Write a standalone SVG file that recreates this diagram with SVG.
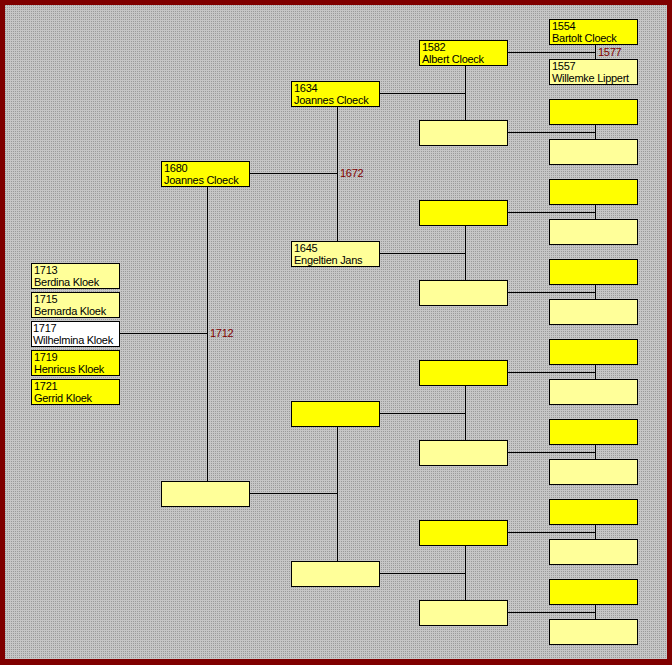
<svg xmlns="http://www.w3.org/2000/svg" width="672" height="665" viewBox="0 0 672 665">
<defs>
<pattern id="bg" x="0" y="0" width="2" height="2" patternUnits="userSpaceOnUse">
<rect width="2" height="2" fill="#c6c6c6"/>
<rect x="1" y="1" width="1" height="1" fill="#9a9a9a"/>
</pattern>
</defs>
<style>
.b{stroke:#000;stroke-width:1}
.y{fill:#ffff00}
.l{fill:#ffff99}
.w{fill:#ffffff}
text{font-family:"Liberation Sans",Arial,sans-serif;font-size:11px;letter-spacing:-0.28px;fill:#000}
text.m{fill:#800000}
#connectors line{stroke:#000;stroke-width:1}
</style>
<rect width="672" height="665" fill="#800000"/>
<rect x="5" y="5" width="662" height="654" fill="url(#bg)"/>
<g id="connectors">
<line x1="120" y1="333.5" x2="207.5" y2="333.5"/>
<line x1="207.5" y1="187" x2="207.5" y2="481"/>
<line x1="250" y1="173.5" x2="337.5" y2="173.5"/>
<line x1="250" y1="493.5" x2="337.5" y2="493.5"/>
<line x1="337.5" y1="107" x2="337.5" y2="241"/>
<line x1="337.5" y1="427" x2="337.5" y2="561"/>
<line x1="380" y1="93.5" x2="465.5" y2="93.5"/>
<line x1="380" y1="253.5" x2="465.5" y2="253.5"/>
<line x1="380" y1="413.5" x2="465.5" y2="413.5"/>
<line x1="380" y1="573.5" x2="465.5" y2="573.5"/>
<line x1="465.5" y1="66" x2="465.5" y2="120"/>
<line x1="465.5" y1="226" x2="465.5" y2="280"/>
<line x1="465.5" y1="386" x2="465.5" y2="440"/>
<line x1="465.5" y1="546" x2="465.5" y2="600"/>
<line x1="508" y1="52.5" x2="595.5" y2="52.5"/>
<line x1="508" y1="132.5" x2="595.5" y2="132.5"/>
<line x1="508" y1="212.5" x2="595.5" y2="212.5"/>
<line x1="508" y1="292.5" x2="595.5" y2="292.5"/>
<line x1="508" y1="372.5" x2="595.5" y2="372.5"/>
<line x1="508" y1="452.5" x2="595.5" y2="452.5"/>
<line x1="508" y1="532.5" x2="595.5" y2="532.5"/>
<line x1="508" y1="612.5" x2="595.5" y2="612.5"/>
<line x1="595.5" y1="45" x2="595.5" y2="59"/>
<line x1="595.5" y1="125" x2="595.5" y2="139"/>
<line x1="595.5" y1="205" x2="595.5" y2="219"/>
<line x1="595.5" y1="285" x2="595.5" y2="299"/>
<line x1="595.5" y1="365" x2="595.5" y2="379"/>
<line x1="595.5" y1="445" x2="595.5" y2="459"/>
<line x1="595.5" y1="525" x2="595.5" y2="539"/>
<line x1="595.5" y1="605" x2="595.5" y2="619"/>
<text class="m" x="210" y="337">1712</text>
<text class="m" x="340" y="177">1672</text>
<text class="m" x="598" y="56">1577</text>
</g>
<g id="c1713"><rect class="b l" x="31.5" y="263.5" width="88" height="25"/><text x="34" y="274">1713</text><text x="34" y="286">Berdina Kloek</text></g>
<g id="c1715"><rect class="b l" x="31.5" y="292.5" width="88" height="25"/><text x="34" y="303">1715</text><text x="34" y="315">Bernarda Kloek</text></g>
<g id="c1717"><rect class="b w" x="31.5" y="321.5" width="88" height="25"/><text x="33" y="332">1717</text><text x="33" y="344">Wilhelmina Kloek</text></g>
<g id="c1719"><rect class="b y" x="31.5" y="350.5" width="88" height="25"/><text x="34" y="361">1719</text><text x="34" y="373">Henricus Kloek</text></g>
<g id="c1721"><rect class="b y" x="31.5" y="379.5" width="88" height="25"/><text x="34" y="390">1721</text><text x="34" y="402">Gerrid Kloek</text></g>
<g id="p1680"><rect class="b y" x="161.5" y="161.5" width="88" height="25"/><text x="164" y="172">1680</text><text x="164" y="184">Joannes Cloeck</text></g>
<g id="p2"><rect class="b l" x="161.5" y="481.5" width="88" height="25"/></g>
<g id="gp1634"><rect class="b y" x="291.5" y="81.5" width="88" height="25"/><text x="294" y="92">1634</text><text x="294" y="104">Joannes Cloeck</text></g>
<g id="gp1645"><rect class="b l" x="291.5" y="241.5" width="88" height="25"/><text x="294" y="252">1645</text><text x="294" y="264">Engeltien Jans</text></g>
<g id="gp3"><rect class="b y" x="291.5" y="401.5" width="88" height="25"/></g>
<g id="gp4"><rect class="b l" x="291.5" y="561.5" width="88" height="25"/></g>
<g id="ggp1582"><rect class="b y" x="419.5" y="40.5" width="88" height="25"/><text x="422" y="51">1582</text><text x="422" y="63">Albert Cloeck</text></g>
<g id="ggp2"><rect class="b l" x="419.5" y="120.5" width="88" height="25"/></g>
<g id="ggp3"><rect class="b y" x="419.5" y="200.5" width="88" height="25"/></g>
<g id="ggp4"><rect class="b l" x="419.5" y="280.5" width="88" height="25"/></g>
<g id="ggp5"><rect class="b y" x="419.5" y="360.5" width="88" height="25"/></g>
<g id="ggp6"><rect class="b l" x="419.5" y="440.5" width="88" height="25"/></g>
<g id="ggp7"><rect class="b y" x="419.5" y="520.5" width="88" height="25"/></g>
<g id="ggp8"><rect class="b l" x="419.5" y="600.5" width="88" height="25"/></g>
<g id="g1554"><rect class="b y" x="549.5" y="19.5" width="88" height="25"/><text x="552" y="30">1554</text><text x="552" y="42">Bartolt Cloeck</text></g>
<g id="g1557"><rect class="b l" x="549.5" y="59.5" width="88" height="25"/><text x="552" y="70">1557</text><text x="552" y="82">Willemke Lippert</text></g>
<g id="g3"><rect class="b y" x="549.5" y="99.5" width="88" height="25"/></g>
<g id="g4"><rect class="b l" x="549.5" y="139.5" width="88" height="25"/></g>
<g id="g5"><rect class="b y" x="549.5" y="179.5" width="88" height="25"/></g>
<g id="g6"><rect class="b l" x="549.5" y="219.5" width="88" height="25"/></g>
<g id="g7"><rect class="b y" x="549.5" y="259.5" width="88" height="25"/></g>
<g id="g8"><rect class="b l" x="549.5" y="299.5" width="88" height="25"/></g>
<g id="g9"><rect class="b y" x="549.5" y="339.5" width="88" height="25"/></g>
<g id="g10"><rect class="b l" x="549.5" y="379.5" width="88" height="25"/></g>
<g id="g11"><rect class="b y" x="549.5" y="419.5" width="88" height="25"/></g>
<g id="g12"><rect class="b l" x="549.5" y="459.5" width="88" height="25"/></g>
<g id="g13"><rect class="b y" x="549.5" y="499.5" width="88" height="25"/></g>
<g id="g14"><rect class="b l" x="549.5" y="539.5" width="88" height="25"/></g>
<g id="g15"><rect class="b y" x="549.5" y="579.5" width="88" height="25"/></g>
<g id="g16"><rect class="b l" x="549.5" y="619.5" width="88" height="25"/></g>
</svg>
